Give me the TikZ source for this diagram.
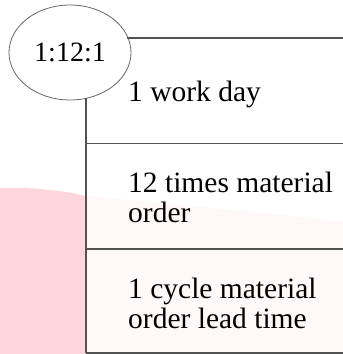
\documentclass[tikz,border=0pt]{standalone}
\usepackage{fontspec}
\setmainfont{Liberation Serif}
\usetikzlibrary{shapes.geometric}
\definecolor{tintA}{RGB}{255,214,220}
\definecolor{tintB}{RGB}{255,248,248}
\begin{document}
\begin{tikzpicture}[x=1pt,y=-1pt,
  rule/.style={draw=black!68,line width=1.4pt},
  lbl/.style={anchor=base west,inner sep=0pt,font=\fontsize{29.5}{30}\selectfont,align=left},
  oval/.style={draw=black!60,line width=0.8pt,ellipse,minimum width=122pt,minimum height=95pt,inner sep=0pt,font=\fontsize{28}{30}\selectfont}]
\useasboundingbox (0,0) rectangle (343,354);
% background tints
\fill[tintA,draw=none] (0,188) .. controls (30,187) and (60,190) .. (86,196) -- (86,354) -- (0,354) -- cycle;
\fill[tintB,draw=none] (86,196) .. controls (180,205) and (260,212) .. (343,222) -- (343,354) -- (86,354) -- cycle;
% oval
\node[oval] (e) at (70,52.5) {1:12:1};
% rules
\coordinate (r1) at (343,38);
\coordinate (r2a) at (86,143.5);
\coordinate (r2b) at (343,143.5);
\coordinate (r3a) at (86,249);
\coordinate (r3b) at (343,249);
\coordinate (r4a) at (86,353);
\coordinate (r4b) at (343,353);
\draw[rule] (e.east |- r1) ++(-4,0) -- (r1);
\draw[rule] (e.south -| r2a) ++(0,-2) -- (r4a);
\draw[rule] (r2a) -- (r2b);
\draw[rule] (r3a) -- (r3b);
\draw[rule] (r4a) -- (r4b);
% labels
\node[lbl] (t1) at (128,101.5) {1 work day};
\node[lbl] (t2a) at (128,192) {12 times material};
\node[lbl] (t2b) at (128,222) {order};
\node[lbl] (t3a) at (128,298) {1 cycle material};
\node[lbl] (t3b) at (128,328) {order lead time};
\end{tikzpicture}
\end{document}
